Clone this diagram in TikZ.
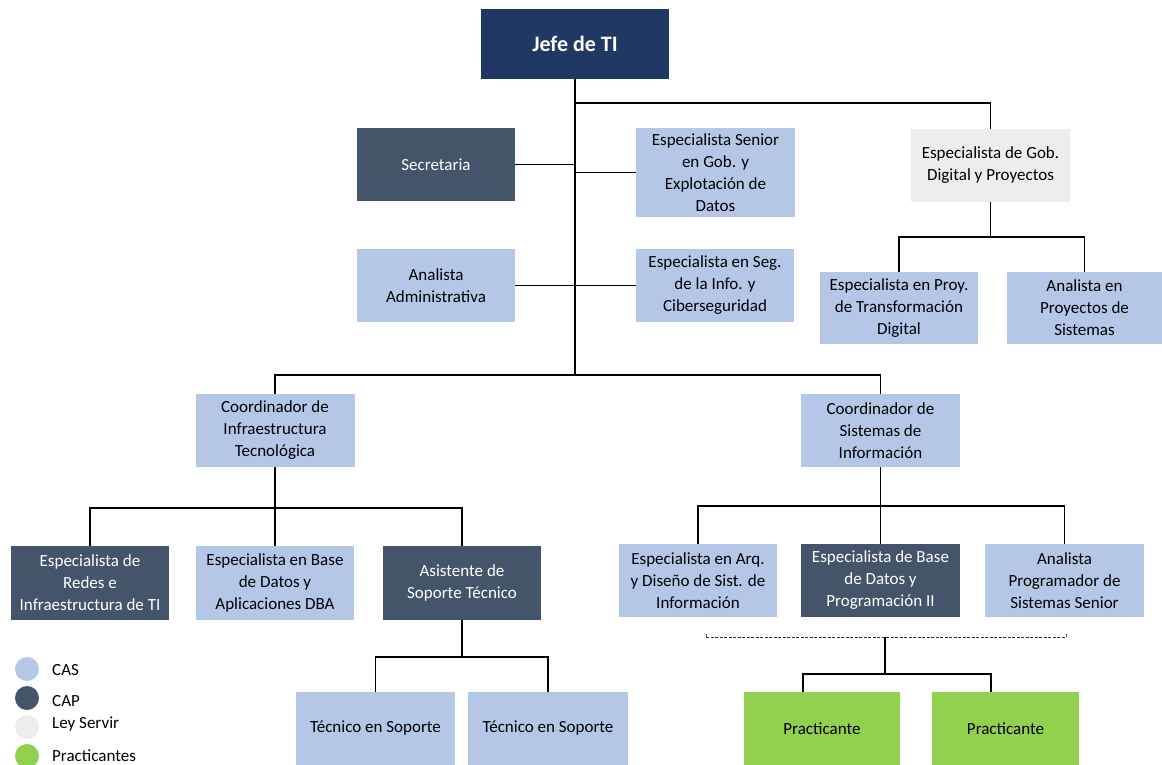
\documentclass[tikz,border=0pt]{standalone}
\usepackage{fontspec}
\setmainfont{Carlito}
\definecolor{navy}{HTML}{203864}
\definecolor{slate}{HTML}{44546A}
\definecolor{lblue}{HTML}{B4C7E7}
\definecolor{lgrey}{HTML}{EDEDED}
\definecolor{lgreen}{HTML}{92D050}
\tikzset{
  pbox/.style={inner sep=0pt, align=center, font=\fontsize{17}{22}\selectfont},
  casbox/.style={pbox, fill=lblue, text=black},
  capbox/.style={pbox, fill=slate, text=white},
  servirbox/.style={pbox, fill=lgrey, text=black},
  pracbox/.style={pbox, fill=lgreen, text=black},
  conn/.style={line width=1.6pt, black},
  dconn/.style={line width=0.8pt, black!80, dash pattern=on 3pt off 1.5pt},
  legtext/.style={anchor=west, inner sep=0pt, font=\fontsize{17}{20}\selectfont},
}
\begin{document}
\begin{tikzpicture}[x=1pt,y=-1pt]
\useasboundingbox (0,0) rectangle (1162,765);
% nodes
\node[pbox, fill=navy, text=white, minimum width=188pt, minimum height=70pt, font=\fontsize{22}{26}\selectfont\bfseries] (jefe) at (575,44) {Jefe de TI};
\node[capbox, minimum width=158pt, minimum height=73pt] (sec) at (436,164.5) {Secretaria};
\node[casbox, minimum width=159pt, minimum height=89pt] (esg) at (715.5,172.5) {Especialista Senior\\en Gob. y\\Explotación de\\Datos};
\node[servirbox, minimum width=159pt, minimum height=73pt] (egd) at (990.5,165.5) {Especialista de Gob.\\Digital y Proyectos};
\node[casbox, minimum width=158pt, minimum height=73pt] (aad) at (436,285.5) {Analista\\Administrativa};
\node[casbox, minimum width=158pt, minimum height=73pt] (ese) at (715,285.5) {Especialista en Seg.\\de la Info. y\\Ciberseguridad};
\node[casbox, minimum width=158pt, minimum height=72pt] (ept) at (899,308) {Especialista en Proy.\\de Transformación\\Digital};
\node[casbox, minimum width=155pt, minimum height=72pt] (aps) at (1084.5,308) {Analista en\\Proyectos de\\Sistemas};
\node[casbox, minimum width=159pt, minimum height=73pt] (cit) at (275,430.5) {Coordinador de\\Infraestructura\\Tecnológica};
\node[casbox, minimum width=159pt, minimum height=73pt] (csi) at (880.5,430.5) {Coordinador de\\Sistemas de\\Información};
\node[capbox, minimum width=158pt, minimum height=74pt] (eri) at (90,583) {Especialista de\\Redes e\\Infraestructura de TI};
\node[casbox, minimum width=158pt, minimum height=74pt] (ebd) at (275,583) {Especialista en Base\\de Datos y\\Aplicaciones DBA};
\node[capbox, minimum width=158pt, minimum height=74pt] (ast) at (462,583) {Asistente de\\Soporte Técnico};
\node[casbox, minimum width=158pt, minimum height=73pt] (ead) at (698,580.5) {Especialista en Arq.\\y Diseño de Sist. de\\Información};
\node[capbox, minimum width=159pt, minimum height=73pt] (ebp) at (880.5,580.5) {Especialista de Base\\de Datos y\\Programación II};
\node[casbox, minimum width=159pt, minimum height=73pt] (apr) at (1064.5,580.5) {Analista\\Programador de\\Sistemas Senior};
\node[casbox, minimum width=159pt, minimum height=73pt] (tec1) at (375.5,728.5) {Técnico en Soporte};
\node[casbox, minimum width=160pt, minimum height=73pt] (tec2) at (548,728.5) {Técnico en Soporte};
\node[pracbox, minimum width=156pt, minimum height=73pt] (pr1) at (822,728.5) {Practicante};
\node[pracbox, minimum width=147pt, minimum height=73pt] (pr2) at (1005.5,728.5) {Practicante};
% junction coordinates
\coordinate (j1) at (575,375);
\coordinate (b1) at (575,103);
\coordinate (g1) at (990.5,237);
\coordinate (c1) at (275,508);
\coordinate (a1) at (462,657);
\coordinate (s1) at (880.5,506);
\coordinate (d1) at (706,637);
\coordinate (d2) at (1066,637);
\coordinate (d3) at (885,637);
\coordinate (p1) at (885,674);
\coordinate (q1) at (803,692);
\coordinate (q2) at (991,692);
% connectors
\draw[conn] (jefe.south) -- (j1);
\draw[conn] (b1) -| (egd.north);
\draw[conn] (sec.east) -- (sec.east -| jefe.south);
\draw[conn] (esg.west) -- (esg.west -| jefe.south);
\draw[conn] (aad.east) -- (aad.east -| jefe.south);
\draw[conn] (ese.west) -- (ese.west -| jefe.south);
\draw[conn] (egd.south) -- (g1);
\draw[conn] (ept.north) |- (g1) -| (aps.north);
\draw[conn] (cit.north) |- (j1) -| (csi.north);
\draw[conn] (cit.south) -- (c1);
\draw[conn] (eri.north) |- (c1) -| (ast.north);
\draw[conn] (c1) -- (ebd.north);
\draw[conn] (ast.south) -- (a1);
\draw[conn] (tec1.north) |- (a1) -| (tec2.north);
\draw[conn] (csi.south) -- (s1);
\draw[conn] (ead.north) |- (s1) -| (apr.north);
\draw[conn] (s1) -- (ebp.north);
\draw[dconn] (d1) -- (d2);
\draw[line width=0.6pt, black!70] (d1) -- ++(0,-3);
\draw[line width=0.6pt, black!70] (d2) -- ++(0,-3);
\draw[conn] (d3) -- (p1);
\draw[conn] (q1) |- (p1) -| (q2);
% legend
\fill[lblue] (27,669) circle (12pt);
\fill[slate] (27,698) circle (12pt);
\fill[lgrey] (27,727) circle (12pt);
\fill[lgreen] (27,756) circle (12pt);
\node[legtext] (lcas) at (52,670) {CAS};
\node[legtext] (lcap) at (52,701) {CAP};
\node[legtext] (lley) at (52,724) {Ley Servir};
\node[legtext] (lpra) at (52,756) {Practicantes};
\end{tikzpicture}
\end{document}
